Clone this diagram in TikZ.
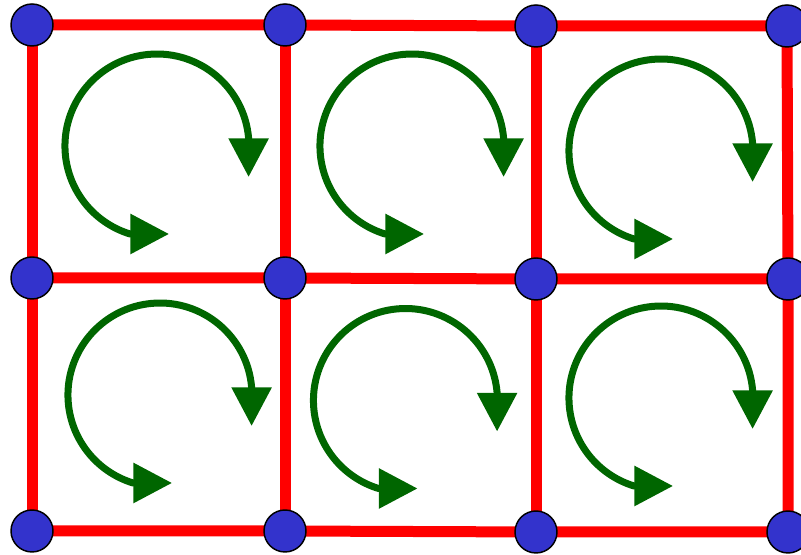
\documentclass[tikz,border=0pt]{standalone}
\usepackage{xcolor}
\usetikzlibrary{arrows.meta, math}
\definecolor{siteblue}{RGB}{51,51,204}
\definecolor{loopgreen}{RGB}{0,102,0}
\pgfdeclarelayer{bg}
\pgfsetlayers{bg,main}

\tikzset{
site/.style={circle, draw=black, line width=1.1pt, fill=siteblue, minimum size=31.5pt, inner sep=0pt},
bond/.style={red, line width=8.25pt},
swirl/.style={loopgreen, line width=5.25pt, >={Triangle[length=29pt,width=29pt]}, <->},
}

\begin{document}
\begin{tikzpicture}[x=0.75pt, y=0.75pt]
\tikzmath{
\r=92;
\hd=39;
}
\useasboundingbox (0,0) rectangle (801,555);

\node[site] (s1) at (32,530) {};
\node[site] (s2) at (285,530) {};
\node[site] (s3) at (536,529) {};
\node[site] (s4) at (787,529) {};
\node[site] (s5) at (32,277) {};
\node[site] (s6) at (285,277) {};
\node[site] (s7) at (536,276) {};
\node[site] (s8) at (788,276) {};
\node[site] (s9) at (32,24) {};
\node[site] (s10) at (285,24) {};
\node[site] (s11) at (536,23) {};
\node[site] (s12) at (788,23) {};

\begin{pgfonlayer}{bg}
\draw[bond] (s1.center) -- (s2.center) -- (s3.center) -- (s4.center);
\draw[bond] (s5.center) -- (s6.center) -- (s7.center) -- (s8.center);
\draw[bond] (s9.center) -- (s10.center) -- (s11.center) -- (s12.center);
\draw[bond] (s1.center) -- (s5.center) -- (s9.center);
\draw[bond] (s2.center) -- (s6.center) -- (s10.center);
\draw[bond] (s3.center) -- (s7.center) -- (s11.center);
\draw[bond] (s4.center) -- (s8.center) -- (s12.center);
\end{pgfonlayer}

% circulation in each plaquette
\foreach \cx/\cy in {157/409, 412/409, 661/404, 160/160, 405.5/154.5, 661/157}{
\draw[swirl] (\cx+91.6,\cy-31) -- (\cx+91.6,\cy+8) arc(5:253:\r) -- ++(\hd,0);
}

\end{tikzpicture}
\end{document}
